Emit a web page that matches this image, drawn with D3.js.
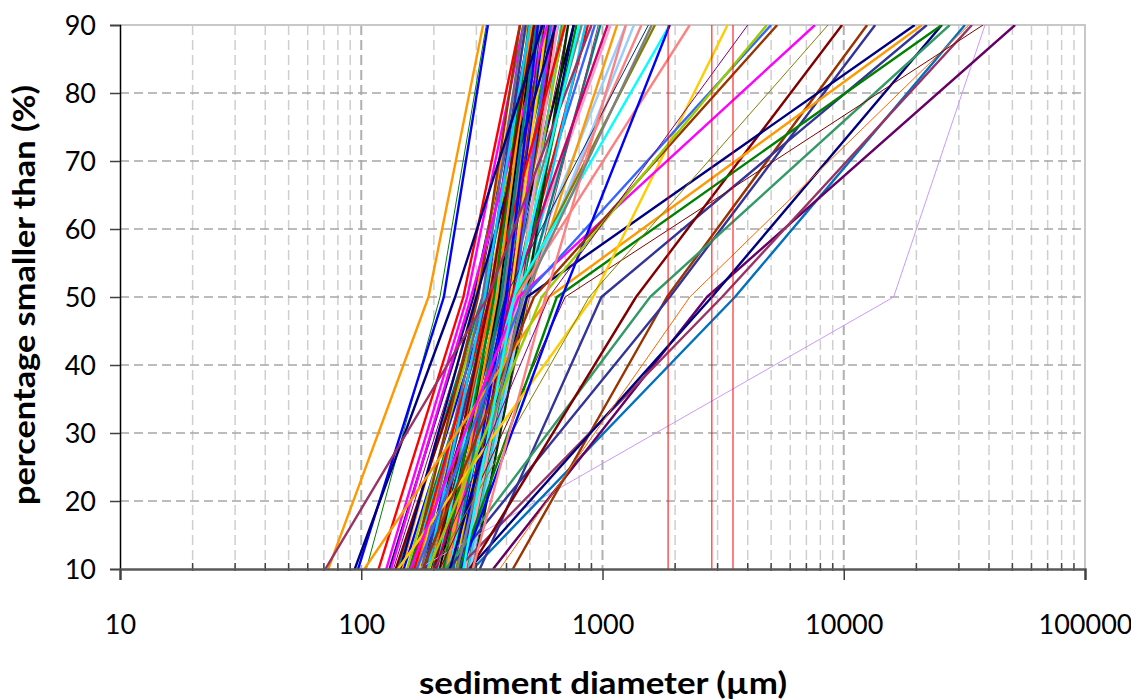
<!DOCTYPE html>
<html>
<head>
<meta charset="utf-8">
<script src="https://cdn.jsdelivr.net/npm/d3@7/dist/d3.min.js"></script>
<style>
  body { margin: 0; background: #fff; }
  text { font-family: Lato, "Open Sans", sans-serif; }
</style>
</head>
<body>
<svg id="chart" width="1131" height="700"></svg>
<script>
// percentages plotted for each sample (D10, D50, D90)
const percents = [10, 50, 90];

// grain sizes in µm, one entry per sample
const d10 = [
  118, 131, 127, 142, 136, 150, 147, 158, 139, 163, 171, 155, 176, 168, 182, 186, 191, 174, 197, 203,
  188, 209, 214, 199, 221, 226, 207, 233, 238, 218, 244, 249, 229, 256, 261, 242, 268, 273, 252, 280,
  286, 265, 212, 196, 184, 223, 235, 246, 258, 178, 162, 270, 276, 292, 283, 248, 231, 215, 195, 205,
  166, 145, 133, 240, 262, 254, 227, 219, 201, 189,
  73, 105, 97, 94, 71, 172, 290, 352, 425, 250, 280, 310, 230, 224, 282, 375, 212, 255, 103, 233,
  142, 200, 160, 170, 260, 180, 190, 290, 250, 265, 200,
  1870, 2840, 3475
];
const d50 = [
  265, 292, 275, 318, 305, 340, 298, 352, 330, 345, 372, 322, 390, 360, 348, 400, 376, 335, 412, 385,
  365, 428, 395, 380, 445, 405, 358, 462, 418, 390, 440, 455, 410, 475, 430, 396, 490, 455, 420, 470,
  498, 440, 372, 350, 330, 388, 402, 415, 432, 318, 305, 450, 462, 485, 478, 438, 425, 440, 395, 420,
  342, 300, 285, 380, 410, 400, 365, 355, 340, 325,
  190, 212, 220, 245, 335, 16100, 3540, 2710, 1850, 3130, 2840, 990, 1900, 1575, 1377, 2300, 700, 647, 600, 486,
  914, 880, 450, 470, 680, 520, 560, 580, 470, 430, 600,
  1870, 2840, 3475
];
const d90 = [
  455, 510, 470, 560, 500, 610, 485, 640, 590, 560, 690, 520, 760, 600, 540, 820, 620, 530, 930, 640,
  575, 1080, 660, 600, 1250, 680, 550, 1450, 700, 590, 870, 760, 630, 980, 720, 580, 1150, 780, 640, 850,
  960, 690, 520, 505, 480, 545, 565, 585, 610, 470, 455, 650, 670, 720, 1350, 1650, 1900, 2300, 1550, 1050,
  700, 640, 590, 530, 555, 540, 510, 495, 520, 500,
  320, 330, 335, 565, 900, 38500, 31800, 51300, 12500, 34000, 25500, 22100, 13500, 27500, 9840, 33000, 37800, 25500, 21100, 19700,
  3300, 8600, 7600, 5000, 1900, 5300, 4800, 1250, 1600, 800, 4000,
  1870, 2840, 3475
];

const xTicks = [10, 100, 1000, 10000, 100000];
const yTicks = [10, 20, 30, 40, 50, 60, 70, 80, 90];

// line styles (not data)
const palette = ["#FF0000", "#000080", "#FF00FF", "#008080", "#800080", "#0000FF", "#FF9900", "#008000",
  "#800000", "#00CCFF", "#993366", "#99CC00", "#000000", "#FF6600", "#333399", "#808080", "#339966",
  "#FFCC00", "#3366FF", "#666699", "#993300", "#FF99CC", "#33CCCC", "#003300", "#99CCFF", "#808000",
  "#00FFFF", "#FF8080", "#003366", "#CC0066"];
const nBundle = 70;
const outColours = ["#FF9900", "#008000", "#0000FF", "#000080", "#993366", "#CC99FF", "#0070C0", "#660066",
  "#993300", "#993366", "#000080", "#333399", "#333399", "#339966", "#800000", "#FF6600", "#800000",
  "#008000", "#FF9900", "#000080", "#FFCC00", "#808000", "#FF00FF", "#3366FF", "#0000FF", "#993300",
  "#99CC00", "#FF8080", "#808080", "#00FFFF", "#800080", "#FF0000", "#FF0000", "#FF0000"];
const outThin = [1, 5, 15, 16, 21, 30, 31, 32, 33];

const mLeft = 120, mRight = 1085, mTop = 25, mBottom = 569;

const svg = d3.select("#chart");
const x = d3.scaleLog().domain([10, 100000]).range([mLeft, mRight]);
const y = d3.scaleLinear().domain([10, 90]).range([mBottom, mTop]);

// vertical grid (every 1..9 x decade)
const minor = [];
for (let k = 10; k < 100000; k *= 10) {
  for (let m = 1; m <= 9; m++) {
    const v = m * k;
    if (v > 10 && v < 100000) minor.push(v);
  }
}
svg.append("g").selectAll("line").data(minor).join("line")
  .attr("x1", d => x(d)).attr("x2", d => x(d))
  .attr("y1", mTop).attr("y2", mBottom)
  .attr("stroke", d => xTicks.includes(d) ? "#b0b0b0" : "#cfcfcf")
  .attr("stroke-width", d => xTicks.includes(d) ? 2 : 1.5)
  .attr("stroke-dasharray", "10,5");

// horizontal grid
svg.append("g").selectAll("line").data(yTicks.filter(d => d > 10 && d < 90)).join("line")
  .attr("x1", mLeft).attr("x2", mRight)
  .attr("y1", d => y(d)).attr("y2", d => y(d))
  .attr("stroke", "#a6a6a6").attr("stroke-width", 1.5)
  .attr("stroke-dasharray", "9,5");

// top and right border
svg.append("path")
  .attr("d", `M${mLeft},${mTop}H${mRight}V${mBottom}`)
  .attr("fill", "none").attr("stroke", "#c8c8c8").attr("stroke-width", 2);

// sample curves
const line = d3.line().x(d => x(d[0])).y(d => y(d[1]));
const samples = d10.map((v, i) => [[v, percents[0]], [d50[i], percents[1]], [d90[i], percents[2]]]);

svg.append("defs").append("clipPath").attr("id", "plot")
  .append("rect").attr("x", mLeft).attr("y", mTop).attr("width", mRight - mLeft).attr("height", mBottom - mTop);

svg.append("g").attr("clip-path", "url(#plot)")
  .selectAll("path").data(samples).join("path")
  .attr("d", line)
  .attr("fill", "none")
  .attr("stroke", (d, i) => i < nBundle ? palette[i % palette.length] : outColours[i - nBundle])
  .attr("stroke-width", (d, i) => {
    if (i < nBundle) return i % 6 === 4 ? 1 : 2.4;
    return outThin.includes(i - nBundle) ? 1 : 2.4;
  })
  .attr("stroke-linejoin", "round");

// axes
const yAxis = d3.axisLeft(y).tickValues(yTicks).tickSize(10).tickPadding(14);
const gy = svg.append("g").attr("transform", `translate(${mLeft},0)`).call(yAxis);
gy.select(".domain").attr("stroke", "#000").attr("stroke-width", 1.5);
gy.selectAll(".tick line").attr("stroke", "#404040").attr("stroke-width", 1.5);
gy.selectAll("text").attr("font-size", 27).attr("fill", "#000").attr("dy", "0.36em");

// minor ticks on x axis
svg.append("g").selectAll("line").data(minor.filter(d => !xTicks.includes(d))).join("line")
  .attr("x1", d => x(d)).attr("x2", d => x(d))
  .attr("y1", mBottom - 6).attr("y2", mBottom + 2)
  .attr("stroke", "#404040").attr("stroke-width", 1.5);

const xAxis = d3.axisBottom(x).tickValues(xTicks).tickSize(11).tickPadding(35).tickFormat(d3.format("d"));
const gx = svg.append("g").attr("transform", `translate(0,${mBottom})`).call(xAxis);
gx.select(".domain").attr("stroke", "#595959").attr("stroke-width", 2.5);
gx.selectAll(".tick line").attr("stroke", "#404040").attr("stroke-width", 1.5);
gx.selectAll("text").attr("font-size", 27).attr("fill", "#000");

// axis titles
svg.append("text")
  .attr("x", 603).attr("y", 694)
  .attr("text-anchor", "middle")
  .attr("font-size", 31).attr("font-weight", "bold")
  .attr("textLength", 368).attr("lengthAdjust", "spacingAndGlyphs")
  .text("sediment diameter (µm)");

svg.append("text")
  .attr("transform", "translate(35,295) rotate(-90)")
  .attr("text-anchor", "middle")
  .attr("font-size", 31).attr("font-weight", "bold")
  .attr("textLength", 420).attr("lengthAdjust", "spacingAndGlyphs")
  .text("percentage smaller than (%)");
</script>
</body>
</html>
